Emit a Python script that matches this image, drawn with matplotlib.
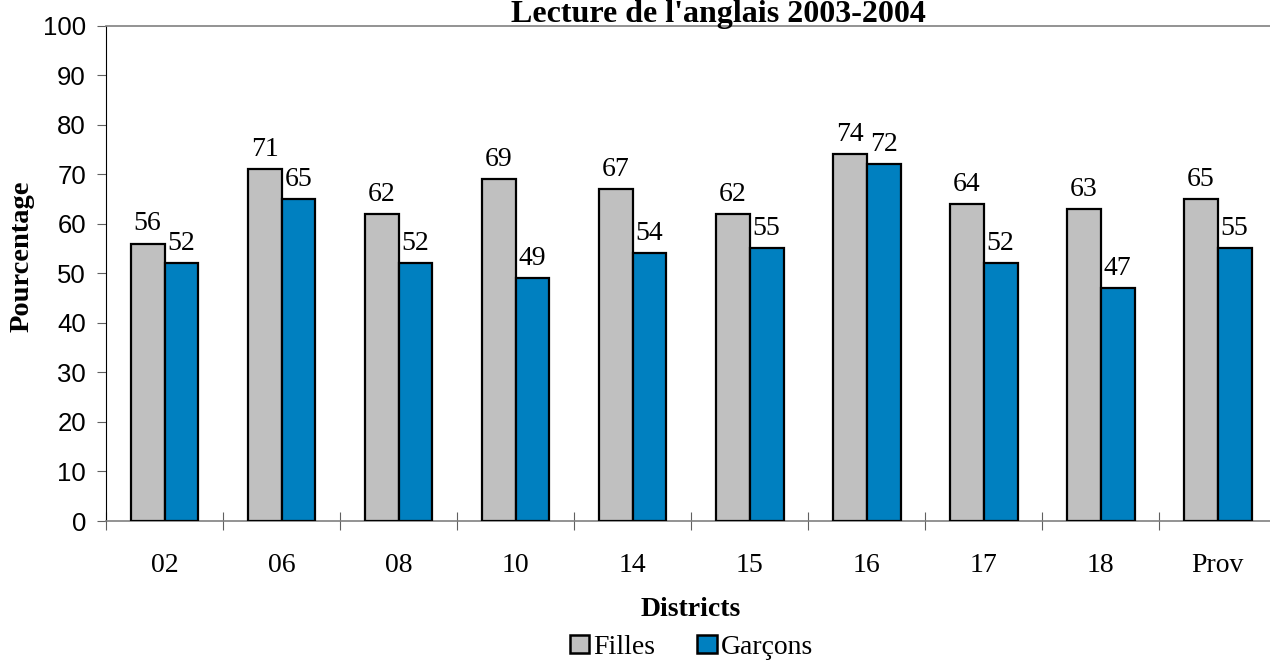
import matplotlib
matplotlib.use('Agg')
import matplotlib.pyplot as plt
from matplotlib.patches import Patch
import numpy as np

matplotlib.rcParams['font.family'] = 'serif'
matplotlib.rcParams['font.serif'] = ['Liberation Serif', 'DejaVu Serif']
matplotlib.rcParams['font.sans-serif'] = ['Liberation Sans', 'DejaVu Sans']

# données
districts = ['02', '06', '08', '10', '14', '15', '16', '17', '18', 'Prov']
filles = [56, 71, 62, 69, 67, 62, 74, 64, 63, 65]
garcons = [52, 65, 52, 49, 54, 55, 72, 52, 47, 55]
series_names = ['Filles', 'Garçons']
colors = ['#C0C0C0', '#0080C0']

fig = plt.figure(figsize=(12.7, 6.61), dpi=100)
ax = fig.add_axes([0.0835, 0.2118, 0.9213, 0.7496])

x = np.arange(len(districts))
w = 0.29
bars_f = ax.bar(x - w / 2, filles, w, color=colors[0], edgecolor='black', linewidth=1.6, zorder=3)
bars_g = ax.bar(x + w / 2, garcons, w, color=colors[1], edgecolor='black', linewidth=1.6, zorder=3)

# étiquettes de valeurs
for bars, vals in [(bars_f, filles), (bars_g, garcons)]:
    for b, v in zip(bars, vals):
        ax.annotate(f'{v}', (b.get_x() + b.get_width() / 2, v),
                    xytext=(0, 9.5), textcoords='offset points',
                    ha='center', va='baseline', fontsize=20)

ax.set_xlim(-0.5, len(districts) - 0.5)
ax.set_ylim(0, 100)

# axe y
ax.set_yticks(range(0, 101, 10))
ax.tick_params(axis='y', direction='out', length=6.5, width=0.8, color='#606060', pad=8)
for lab in ax.get_yticklabels():
    lab.set_fontfamily('sans-serif')
    lab.set_fontsize(18.5)

# axe x : traits entre les groupes, étiquettes au centre
ax.set_xticks(np.arange(-0.5, len(districts), 1.0))
ax.set_xticklabels([])
ax.set_xticks(x, minor=True)
ax.set_xticklabels(districts, minor=True, fontsize=20)
ax.tick_params(axis='x', which='major', direction='inout', length=13, width=0.8, color='#606060')
ax.tick_params(axis='x', which='minor', length=0, pad=23)

ax.spines['left'].set_color('black')
ax.spines['top'].set_color('#808080')
ax.spines['bottom'].set_color('#808080')
ax.spines['right'].set_visible(False)
for s in ['top', 'bottom']:
    ax.spines[s].set_linewidth(1.2)

ax.set_xlabel('Districts', fontsize=20, fontweight='bold')
ax.xaxis.set_label_coords(0.5, -0.1917)
ax.xaxis.label.set_va('baseline')
ax.set_ylabel('Pourcentage', fontsize=20.5, fontweight='bold')
ax.yaxis.set_label_coords(-0.0718, 0.535)
ax.yaxis.label.set_va('center')

fig.text(0.566, 0.966, "Lecture de l'anglais 2003-2004", ha='center', va='baseline',
         fontsize=23, fontweight='bold')

handles = [Patch(facecolor=c, edgecolor='black', linewidth=1.8) for c in colors]
fig.legend(handles, series_names, loc='center', bbox_to_anchor=(0.5445, 0.021),
           ncol=2, frameon=False, fontsize=20, handlelength=0.7, handleheight=0.66,
           handletextpad=0.15, columnspacing=1.5, borderpad=0)

fig.savefig('out.png', dpi=100)
